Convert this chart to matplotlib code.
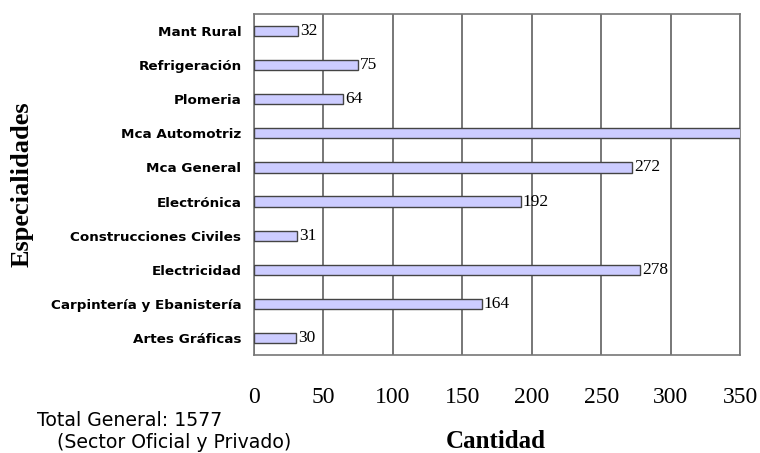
import matplotlib
matplotlib.use("Agg")
import matplotlib.pyplot as plt

categories = ["Artes Gráficas", "Carpintería y Ebanistería", "Electricidad",
              "Construcciones Civiles", "Electrónica", "Mca General",
              "Mca Automotriz", "Plomeria", "Refrigeración", "Mant Rural"]
values = [30, 164, 278, 31, 192, 272, 439, 64, 75, 32]
xticks = [0, 50, 100, 150, 200, 250, 300, 350]

fig = plt.figure(figsize=(7.6, 4.53), dpi=100)
ax = fig.add_axes([254/760, 1-355/453, 486/760, 341/453])

y = list(range(len(categories)))
ax.barh(y, values, height=0.3, color="#ccccff", edgecolor="#444444", linewidth=1.0, zorder=3)
for yi, v in zip(y, values):
    if v <= 350:
        ax.text(v + 1.5, yi, str(v), va="center", ha="left",
                fontsize=12.5, family="Liberation Serif", zorder=4)

ax.set_xlim(0, 350)
ax.set_ylim(-0.5, len(categories) - 0.5)
ax.set_xticks(xticks)
ax.set_xticklabels([str(t) for t in xticks], family="Liberation Serif", fontsize=17)
ax.set_yticks(y)
ax.set_yticklabels(categories, family="DejaVu Sans", fontweight="bold", fontsize=9.7)
ax.tick_params(axis="x", length=0, pad=23)
ax.tick_params(axis="y", length=0, pad=9)
ax.grid(axis="x", color="#606060", linewidth=1.2, zorder=1)
for s in ax.spines.values():
    s.set_color("#777777")
    s.set_linewidth(1.2)

fig.text(22/760, 1-184/453, "Especialidades", rotation=90, ha="center", va="center",
         family="Liberation Serif", fontweight="bold", fontsize=19)
fig.text(496/760, 1-441/453, "Cantidad", ha="center", va="center",
         family="Liberation Serif", fontweight="bold", fontsize=18)
fig.text(37/760, 1-420/453, "Total General: 1577", ha="left", va="center",
         family="DejaVu Sans", fontsize=13.6)
fig.text(57/760, 1-442/453, "(Sector Oficial y Privado)", ha="left", va="center",
         family="DejaVu Sans", fontsize=13.6)

fig.savefig("out.png", dpi=100)
